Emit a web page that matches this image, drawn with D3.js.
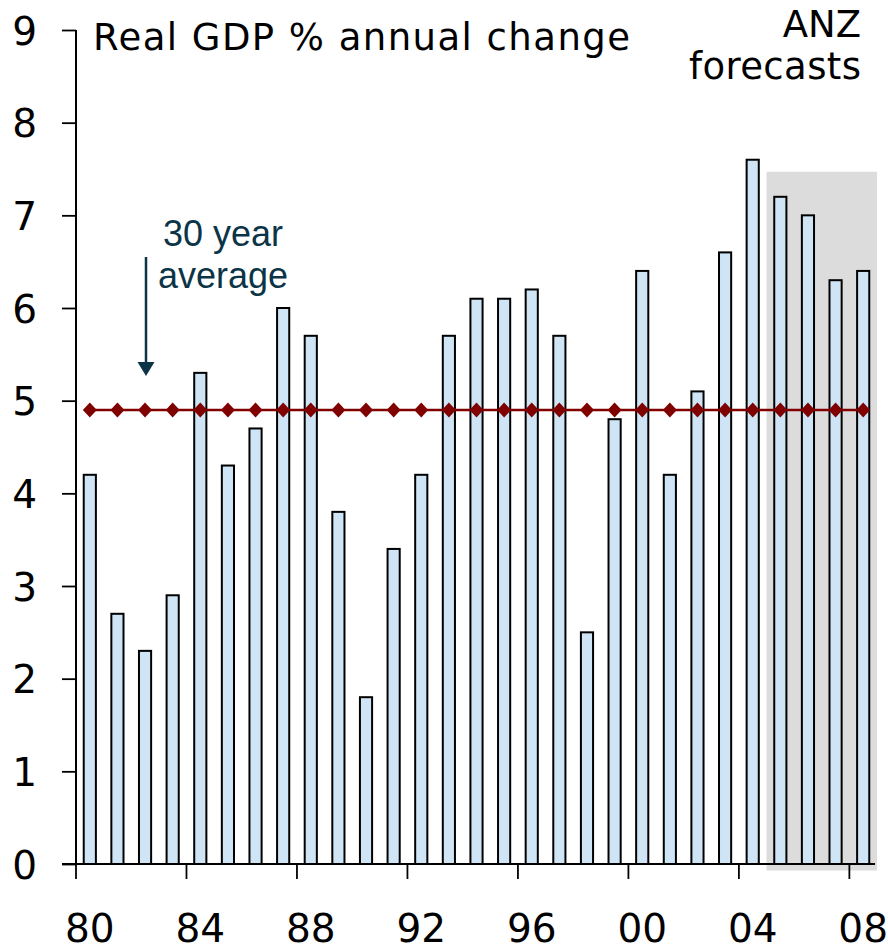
<!DOCTYPE html>
<html>
<head>
<meta charset="utf-8">
<script src="https://cdn.jsdelivr.net/npm/d3@7/dist/d3.min.js"></script>
<style>
  html, body { margin: 0; padding: 0; background: #fff; }
  svg { display: block; }
</style>
</head>
<body>
<svg id="chart" width="888" height="950"></svg>
<script>
// Annual real GDP growth, 1980-2008 (2005 onwards are forecasts)
const years = d3.range(1980, 2009);
const growth = [4.2, 2.7, 2.3, 2.9, 5.3, 4.3, 4.7, 6.0, 5.7, 3.8,
                1.8, 3.4, 4.2, 5.7, 6.1, 6.1, 6.2, 5.7, 2.5, 4.8,
                6.4, 4.2, 5.1, 6.6, 7.6, 7.2, 7.0, 6.3, 6.4];
const average = 4.9;
const forecastFrom = 2005;
const forecastTop = 7.47;
const yTicks = [0, 1, 2, 3, 4, 5, 6, 7, 8, 9];
const xTickYears = [1980, 1984, 1988, 1992, 1996, 2000, 2004, 2008];
const xTickLabels = ["80", "84", "88", "92", "96", "00", "04", "08"];

const svg = d3.select("#chart");
const plotL = 76, plotR = 877, plotT = 30, plotB = 864;

const x = d3.scaleBand().domain(years).range([plotL, plotR]).paddingInner(0.56).paddingOuter(0.28);
const band = d3.scaleBand().domain(years).range([plotL, plotR]);
const y = d3.scaleLinear().domain([0, 9]).range([plotB, plotT]);

// forecast shading
const shadeX0 = (x(forecastFrom - 1) + x.bandwidth() + x(forecastFrom)) / 2;
svg.append("rect")
  .attr("x", shadeX0)
  .attr("y", y(forecastTop))
  .attr("width", plotR - shadeX0)
  .attr("height", y(-0.07) - y(forecastTop))
  .attr("fill", "#dcdcdc");

// bars
svg.append("g").selectAll("rect")
  .data(years)
  .join("rect")
  .attr("x", d => x(d))
  .attr("y", (d, i) => y(growth[i]))
  .attr("width", x.bandwidth())
  .attr("height", (d, i) => y(0) - y(growth[i]))
  .attr("fill", "#cfe5f5")
  .attr("stroke", "#000")
  .attr("stroke-width", 2);

// 30 year average line with diamond markers
const cx = d => x(d) + x.bandwidth() / 2;
svg.append("line")
  .attr("x1", cx(years[0])).attr("x2", cx(years[years.length - 1]))
  .attr("y1", y(average)).attr("y2", y(average))
  .attr("stroke", "#800000").attr("stroke-width", 2.5);
svg.append("g").selectAll("path")
  .data(years)
  .join("path")
  .attr("transform", d => `translate(${cx(d)},${y(average)})`)
  .attr("d", "M0,-7.5 L7,0 L0,7.5 L-7,0 Z")
  .attr("fill", "#800000");

// y axis
const yAxis = svg.append("g")
  .attr("transform", `translate(${plotL},0)`)
  .call(d3.axisLeft(y).tickValues(yTicks).tickSize(14).tickPadding(0).tickFormat(d3.format("d")));
yAxis.select(".domain").attr("d", `M0,${plotT}V${plotB}`).attr("stroke-width", 2);
yAxis.selectAll(".tick line").attr("stroke-width", 1.8);
yAxis.selectAll(".tick text")
  .attr("x", -39)
  .attr("dy", "0.36em")
  .style("font-family", "'DejaVu Sans', sans-serif")
  .style("font-size", "39px")
  .attr("fill", "#000");

// x axis: tick marks between categories, labels centred on the category
const xAxis = svg.append("g").attr("transform", `translate(0,${plotB})`);
xAxis.append("line")
  .attr("x1", plotL - 14).attr("x2", plotR - 2)
  .attr("stroke", "#000").attr("stroke-width", 2);
xAxis.selectAll(".xt")
  .data(xTickYears)
  .join("line")
  .attr("class", "xt")
  .attr("x1", d => band(d)).attr("x2", d => band(d))
  .attr("y1", 0).attr("y2", 15)
  .attr("stroke", "#000").attr("stroke-width", 1.8);
xAxis.selectAll(".xl")
  .data(xTickYears)
  .join("text")
  .attr("class", "xl")
  .attr("x", d => band(d) + band.bandwidth() / 2)
  .attr("y", 78)
  .attr("text-anchor", "middle")
  .style("font-family", "'DejaVu Sans', sans-serif")
  .style("font-size", "39px")
  .text((d, i) => xTickLabels[i]);

// titles and notes
svg.append("text")
  .attr("x", 93).attr("y", 50)
  .attr("textLength", 537).attr("lengthAdjust", "spacing")
  .style("font-family", "'DejaVu Sans', sans-serif")
  .style("font-size", "37px")
  .text("Real GDP % annual change");

const anz = svg.append("text")
  .attr("text-anchor", "end")
  .style("font-family", "'DejaVu Sans', sans-serif")
  .style("font-size", "37px");
anz.append("tspan").attr("x", 861).attr("y", 37).text("ANZ");
anz.append("tspan").attr("x", 861).attr("y", 79).attr("textLength", 172).attr("lengthAdjust", "spacing").text("forecasts");

const note = svg.append("text")
  .attr("text-anchor", "middle")
  .attr("fill", "#0c3447")
  .style("font-family", "'Liberation Sans', Arial, sans-serif")
  .style("font-size", "36px");
note.append("tspan").attr("x", 223).attr("y", 246).text("30 year");
note.append("tspan").attr("x", 223).attr("y", 288).text("average");

// arrow pointing at the average line
svg.append("line")
  .attr("x1", 146).attr("x2", 146)
  .attr("y1", 257).attr("y2", 364)
  .attr("stroke", "#0c3447").attr("stroke-width", 2.5);
svg.append("path")
  .attr("d", "M137.5,362 L154.5,362 L146,376 Z")
  .attr("fill", "#0c3447");
</script>
</body>
</html>
